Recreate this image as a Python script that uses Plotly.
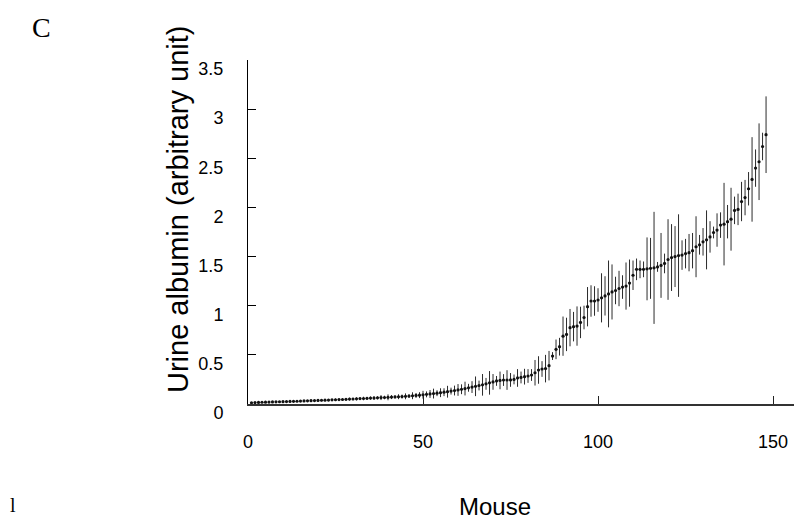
import plotly.graph_objects as go

# Mouse index
mouse = list(range(1, 149))

# Mean urine albumin (arbitrary unit), sorted ascending
albumin = [
    0.012, 0.014, 0.016, 0.018, 0.019, 0.020, 0.021, 0.022, 0.023, 0.024,
    0.025, 0.026, 0.027, 0.028, 0.030, 0.031, 0.032, 0.034, 0.035, 0.036,
    0.038, 0.039, 0.040, 0.042, 0.043, 0.045, 0.046, 0.048, 0.050, 0.051,
    0.053, 0.055, 0.056, 0.058, 0.060, 0.061, 0.063, 0.065, 0.066, 0.068,
    0.070, 0.072, 0.074, 0.076, 0.078, 0.081, 0.084, 0.087, 0.090, 0.094,
    0.098, 0.102, 0.106, 0.110, 0.115, 0.120, 0.125, 0.131, 0.137, 0.143,
    0.150, 0.157, 0.165, 0.172, 0.180, 0.188, 0.195, 0.205, 0.215, 0.225,
    0.235, 0.240, 0.244, 0.244, 0.245, 0.250, 0.265, 0.270, 0.278, 0.285,
    0.295, 0.318, 0.346, 0.356, 0.360, 0.390, 0.488, 0.556, 0.583, 0.690,
    0.708, 0.777, 0.787, 0.793, 0.830, 0.880, 0.990, 1.048, 1.048, 1.058,
    1.080, 1.100, 1.120, 1.140, 1.155, 1.175, 1.190, 1.200, 1.230, 1.310,
    1.370, 1.370, 1.370, 1.375, 1.380, 1.385, 1.395, 1.410, 1.430, 1.470,
    1.490, 1.500, 1.510, 1.515, 1.530, 1.540, 1.560, 1.600, 1.620, 1.650,
    1.670, 1.700, 1.745, 1.770, 1.820, 1.830, 1.855, 1.880, 1.970, 1.980,
    2.060, 2.100, 2.190, 2.285, 2.400, 2.465, 2.620, 2.740,
]

# Error bar half-lengths
err = [
    0.006, 0.005, 0.007, 0.006, 0.008, 0.006, 0.007, 0.008, 0.006, 0.009,
    0.008, 0.007, 0.009, 0.008, 0.010, 0.008, 0.009, 0.011, 0.008, 0.010,
    0.012, 0.009, 0.011, 0.010, 0.013, 0.010, 0.012, 0.011, 0.014, 0.012,
    0.015, 0.012, 0.018, 0.014, 0.016, 0.020, 0.015, 0.025, 0.018, 0.030,
    0.020, 0.015, 0.025, 0.020, 0.030, 0.020, 0.035, 0.025, 0.030, 0.040,
    0.030, 0.040, 0.050, 0.030, 0.045, 0.040, 0.060, 0.035, 0.050, 0.060,
    0.050, 0.070, 0.040, 0.060, 0.100, 0.050, 0.110, 0.060, 0.120, 0.080,
    0.050, 0.090, 0.060, 0.100, 0.070, 0.050, 0.090, 0.060, 0.080, 0.070,
    0.060, 0.130, 0.140, 0.080, 0.140, 0.150, 0.040, 0.100, 0.090, 0.200,
    0.170, 0.190, 0.150, 0.200, 0.160, 0.120, 0.200, 0.160, 0.150, 0.120,
    0.250, 0.200, 0.340, 0.280, 0.140, 0.180, 0.120, 0.240, 0.240, 0.150,
    0.110, 0.090, 0.080, 0.320, 0.310, 0.570, 0.050, 0.330, 0.100, 0.410,
    0.340, 0.310, 0.420, 0.150, 0.150, 0.190, 0.180, 0.310, 0.100, 0.140,
    0.300, 0.160, 0.060, 0.170, 0.130, 0.420, 0.170, 0.320, 0.140, 0.160,
    0.200, 0.180, 0.170, 0.430, 0.190, 0.390, 0.140, 0.390,
]

x_ticks = [0, 50, 100, 150]
y_ticks = [0, 0.5, 1, 1.5, 2, 2.5, 3, 3.5]
y_tick_text = ["0", "0.5", "1", "1.5", "2", "2.5", "3", "3.5"]

# The page body has an 8px margin; lay the figure out in window pixels minus it.
OFF = 8
W, H = 802 - OFF, 521 - OFF
AX_L, AX_R, AX_T, AX_B = 248 - OFF, 800 - OFF, 60 - OFF, 404 - OFF

fig = go.Figure()
fig.add_trace(go.Scatter(
    x=mouse, y=albumin, mode="markers",
    marker=dict(size=3.2, color="#111111"),
    error_y=dict(type="data", array=err, visible=True, color="#2b2b2b",
                 thickness=1, width=0),
    showlegend=False, cliponaxis=False,
))

FONT = "Liberation Sans, Arial, Helvetica, sans-serif"

fig.update_layout(
    width=W, height=H,
    margin=dict(l=AX_L, r=W - AX_R, t=AX_T, b=H - AX_B, pad=0),
    paper_bgcolor="white", plot_bgcolor="white",
    font=dict(family=FONT, color="black", size=18),
    xaxis=dict(
        range=[0, 157.7], tickvals=x_ticks, ticks="inside", ticklen=8,
        tickcolor="#222", tickwidth=1.2,
        showline=True, linecolor="#333333", linewidth=2,
        showgrid=False, zeroline=False,
        tickfont=dict(size=18, family=FONT), ticklabelstandoff=20,
    ),
    yaxis=dict(
        range=[0, 3.5], tickvals=y_ticks, ticktext=y_tick_text,
        ticks="inside", ticklen=8, tickcolor="black", tickwidth=1,
        showline=True, linecolor="black", linewidth=1,
        showgrid=False, zeroline=False,
        tickfont=dict(size=18, family=FONT), ticklabelstandoff=20,
        ticklabelshift=9,
    ),
)

def px_x(px):
    return (px - 248) / (800 - 248)

def px_y(py):
    return (404 - py) / (404 - 60)

fig.add_annotation(text="Urine albumin (arbitrary unit)", textangle=-90,
                   xref="paper", yref="paper", x=px_x(178), y=px_y(210),
                   showarrow=False, font=dict(size=29, family=FONT),
                   xanchor="center", yanchor="middle")
fig.add_annotation(text="Mouse", xref="paper", yref="paper",
                   x=px_x(495), y=px_y(507), showarrow=False,
                   font=dict(size=24, family=FONT),
                   xanchor="center", yanchor="middle")
fig.add_annotation(text="C", xref="paper", yref="paper",
                   x=px_x(41), y=px_y(27), showarrow=False,
                   font=dict(size=28, family="Liberation Serif, Times New Roman, serif"),
                   xanchor="center", yanchor="middle")
fig.add_annotation(text="l", xref="paper", yref="paper",
                   x=px_x(9), y=px_y(505), showarrow=False,
                   font=dict(size=20, family="Liberation Serif, Times New Roman, serif"),
                   xanchor="left", yanchor="middle", borderpad=0)

fig.write_html("out.html")
